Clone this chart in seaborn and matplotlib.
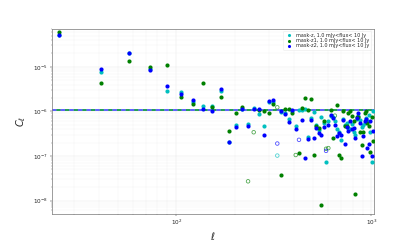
import numpy as np
import pandas as pd
import matplotlib
matplotlib.use("Agg")
import matplotlib.pyplot as plt
import seaborn as sns

# %% binned angular power spectra (negative values drawn as open circles)
ell = [25, 41, 57, 73, 89, 105, 121, 137, 153, 169, 185, 201, 217, 233, 249,
       265, 281, 297, 313, 329, 345, 361, 377, 393, 409, 425, 441, 457, 473,
       489, 505, 521, 537, 553, 569, 585, 601, 617, 633, 649, 665, 681, 697,
       713, 729, 745, 761, 777, 793, 809, 825, 841, 857, 873, 889, 905, 921,
       937, 953, 969, 985, 1001, 1017]

cl_z = [5.1e-5, 7.8e-6, 2.0e-5, 8.8e-6, 2.9e-6, 2.66e-6, 1.65e-6, 1.32e-6,
        1.3e-6, 2.8e-6, 2.1e-7, 5.0e-7, 1.15e-6, 5.1e-7, 1.2e-6, 8.7e-7,
        4.6e-7, 1.6e-6, 1.6e-6, -1.02e-7, 9.5e-7, 9.0e-7, 6.8e-7, 1.0e-6,
        4.6e-7, 1.05e-6, 1.1e-6, 1.15e-6, 2.6e-7, 7.0e-7, 9.5e-7, 5.0e-7,
        3.8e-7, 7.5e-7, 5.5e-7, 7.2e-8, 6.2e-7, 8.0e-7, 7.5e-7, 6.0e-7,
        4.0e-7, 3.5e-7, 2.3e-7, 6.9e-7, 5.0e-7, 5.5e-7, 4.3e-7, 4.0e-7,
        5.2e-7, 3.4e-7, 3.0e-7, 6.6e-7, 8.0e-7, 6.5e-7, 4.5e-7, 5.0e-7,
        5.5e-7, 7.0e-7, 6.2e-7, 8.5e-7, 3.5e-7, 7.2e-8, 1.0e-6]

cl_z1 = [5.9e-5, 4.4e-6, 1.36e-5, 9.9e-6, 1.07e-5, 2.13e-6, 1.46e-6, 4.3e-6,
         1.25e-6, 2.05e-6, 3.7e-7, 9.0e-7, 1.23e-6, -2.7e-8, -3.4e-7, 1.05e-6,
         1.03e-6, 9.0e-7, 1.45e-6, -1.23e-6, 3.8e-8, 1.12e-6, 1.15e-6, 9.2e-7,
         -1.05e-7, 1.14e-7, 1.2e-6, 2.0e-6, 1.1e-6, 1.9e-6, 1.03e-7, 4.8e-7,
         4.2e-7, 8.0e-9, 6.0e-7, -1.45e-7, -1.5e-7, 1.05e-6, 2.5e-7, -8.0e-7,
         1.4e-6, 1.03e-7, 9.0e-8, 1.0e-6, 4.8e-7, 4.8e-7, 9.0e-7, 1.0e-6,
         8.0e-7, 6.0e-7, 1.4e-8, 7.6e-7, 7.6e-7, 3.5e-7, 1.75e-7, 3.5e-7,
         9.0e-7, 1.0e-6, 5.5e-7, 4.8e-7, 1.2e-7, 7.6e-7, 2.2e-7]

cl_z2 = [5.2e-5, 8.7e-6, 2.06e-5, 8.6e-6, 3.76e-6, 2.4e-6, 1.82e-6, 1.11e-6,
         1.0e-6, 3.1e-6, 2.06e-7, 4.4e-7, 1.12e-6, 4.7e-7, 1.12e-6, 1.12e-6,
         3.0e-7, 1.74e-6, 1.8e-6, -1.9e-7, 1.0e-6, 8.8e-7, 5.7e-7, 1.08e-6,
         4.1e-7, -2.3e-7, 6.5e-7, 8.9e-8, 2.4e-7, 6.4e-7, 2.5e-7, 4.3e-7,
         3.3e-7, 2.9e-7, 4.5e-7, -1.3e-7, 5.0e-7, 8.4e-7, 7.0e-7, 5.0e-7,
         2.85e-7, 3.2e-7, 3.0e-7, 6.3e-7, 1.9e-7, 4.5e-7, 3.7e-7, 6.0e-7,
         4.0e-7, 4.2e-7, 2.5e-7, 7.0e-7, 9.0e-7, 5.5e-7, 1.0e-7, 2.85e-7,
         6.2e-7, 6.9e-7, 1.5e-7, 1.9e-7, 6.0e-7, 1.0e-7, 3.7e-7]

# shot-noise level of each sample
noise = [1.07e-6, 1.07e-6, 1.07e-6]

labels = ["mask-z, 1.0 mJy<flux< 10 Jy",
          "mask-z1, 1.0 mJy<flux< 10 Jy",
          "mask-z2, 1.0 mJy<flux< 10 Jy"]
colors = ["c", "g", "b"]

# %% long table
frames = []
for lab, cl in zip(labels, [cl_z, cl_z1, cl_z2]):
    cl = np.array(cl)
    frames.append(pd.DataFrame({"ell": ell, "cl": np.abs(cl),
                                "neg": cl < 0, "mask": lab}))
df = pd.concat(frames, ignore_index=True)

# %% plot
sns.set_style("whitegrid")
fig = plt.figure(figsize=(10, 240 / 41.5), dpi=41.5)
ax = fig.add_subplot(111)

ax.set_xscale("log")
ax.set_yscale("log")

dash_offset = [2.5, 2.5, 0]
for i, (lab, col) in enumerate(zip(labels, colors)):
    sub = df[df["mask"] == lab]
    pos = sub[~sub["neg"]]
    neg = sub[sub["neg"]]
    sns.scatterplot(x="ell", y="cl", data=pos, color=col, s=52,
                    linewidth=0, label=lab, ax=ax, zorder=3)
    if len(neg):
        sns.scatterplot(x="ell", y="cl", data=neg, color=col, s=38,
                        facecolor="none", edgecolor=col, linewidth=1.4,
                        alpha=0.7, ax=ax, zorder=3)
    ax.axhline(noise[i], color=col, ls=(dash_offset[i], (2.5, 2.5)), lw=3,
               alpha=0.7, zorder=2)

ax.set_xlim(23, 1024)
ax.set_ylim(5.1e-9, 7.1e-5)

ax.grid(which="major", color="0.9", lw=0.8)
ax.grid(which="minor", color="0.94", lw=0.6)
for sp in ax.spines.values():
    sp.set_color("0.5")
    sp.set_linewidth(1.3)
ax.tick_params(which="major", length=4, width=0.8, color="0.2", labelsize=10)
ax.tick_params(which="minor", length=2.5, width=0.6, color="0.3")
ax.tick_params(axis="both", which="both", left=True, bottom=True)

ax.set_xlabel(r"$\ell$", fontsize=17)
ax.set_ylabel(r"$C_\ell$", fontsize=17, labelpad=8)

ax.legend(loc="upper right", fontsize=8.5, labelspacing=0.05,
          handletextpad=0.4, borderpad=0.3, frameon=True,
          edgecolor="0.9", markerscale=0.75)

fig.savefig("out.png", dpi=41.5)
